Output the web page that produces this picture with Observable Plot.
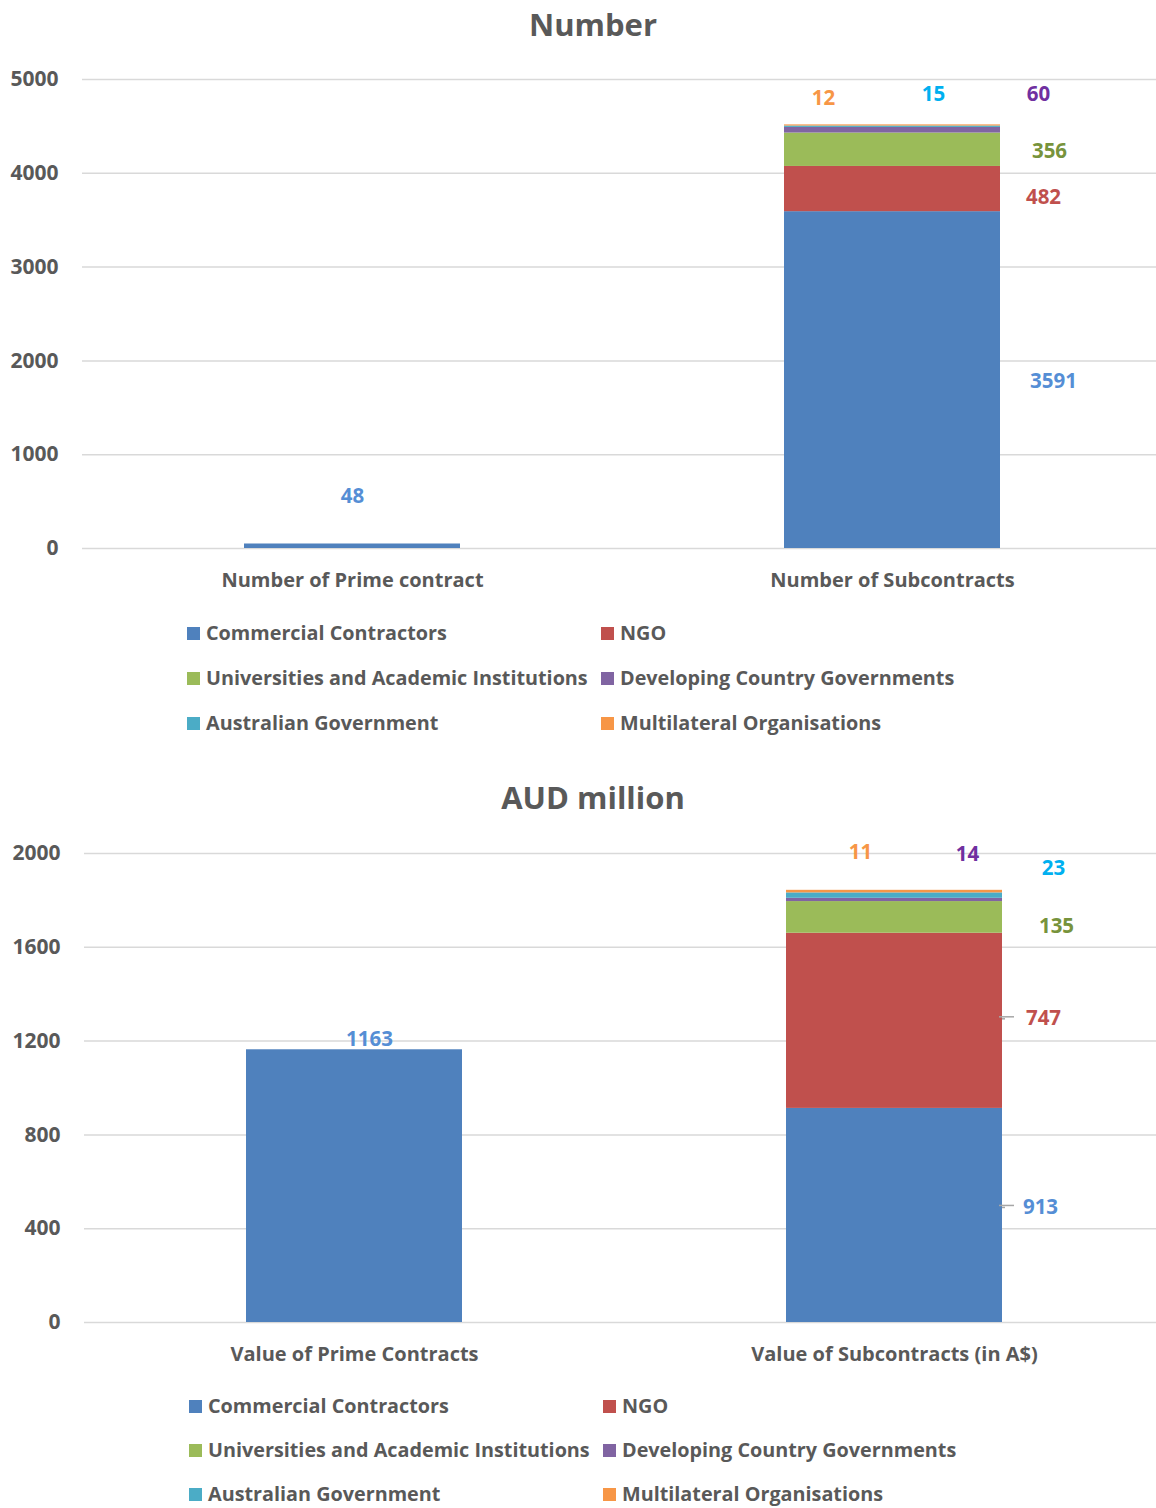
<!DOCTYPE html>
<html>
<head>
<meta charset="utf-8">
<script src="https://cdn.jsdelivr.net/npm/d3@7"></script>
<script src="https://cdn.jsdelivr.net/npm/@observablehq/plot@0.6"></script>
<style>
  body { margin: 0; background: #fff; }
  #page { position: relative; width: 1156px; height: 1508px; overflow: hidden;
          font-family: "Open Sans", Lato, sans-serif; color: #595959; }
  .title { position: absolute; left: 0; width: 1186px; text-align: center;
           font-weight: 700; font-size: 31px; line-height: 38px; }
  .chart { position: absolute; left: 0; }
  .item { position: absolute; white-space: nowrap; display: flex; align-items: center;
          font-weight: 700; font-size: 19.8px; line-height: 24px; height: 24px; }
  .sw { width: 13px; height: 13px; margin-right: 6px; flex: none; }
</style>
</head>
<body>
<div id="page"></div>
<script>
// Contracting partners by type: counts and AUD values
const seriesNames = [
  "Commercial Contractors",
  "NGO",
  "Universities and Academic Institutions",
  "Developing Country Governments",
  "Australian Government",
  "Multilateral Organisations"
];
const seriesColors = ["#4F81BD", "#C0504D", "#9BBB59", "#8064A2", "#4BACC6", "#F79646"];
const labelColors  = ["#558ED5", "#C0504D", "#77933C", "#7030A0", "#00B0F0", "#F79646"];

const numberCategories = ["Number of Prime contract", "Number of Subcontracts"];
const numberPrime = [48, 0, 0, 0, 0, 0];
const numberSub   = [3591, 482, 356, 60, 15, 12];
const numberTicks = [0, 1000, 2000, 3000, 4000, 5000];

const valueCategories = ["Value of Prime Contracts", "Value of Subcontracts (in A$)"];
const valuePrime = [1163, 0, 0, 0, 0, 0];
const valueSub   = [913, 747, 135, 14, 23, 11];
const valueTicks = [0, 400, 800, 1200, 1600, 2000];

// label nudges in pixels, per series: [dx, dy] from the segment midpoint
const numberLabelNudge = [
  [[0, -50]],
  [[161, 1], [151, 8], [157, 2], [146, -36], [41, -32], [-69, -27]]
];
const valueLabelNudge = [
  [[15, -147]],
  [[146, -8], [149, -2], [162, 9], [73, -45], [159, -27], [-34, -39]]
];
// which subcontract labels get a short leader line
const valueLeaders = [0, 1];

const FONT = "'Open Sans', Lato, sans-serif";
const page = document.getElementById("page");

function addDiv(cls, top, text) {
  const d = document.createElement("div");
  d.className = cls;
  d.style.top = top + "px";
  d.textContent = text;
  page.appendChild(d);
  return d;
}

function legend(top, leftCol1, leftCol2, rowGap = 45) {
  seriesNames.forEach((name, i) => {
    const row = Math.floor(i / 2), col = i % 2;
    const item = document.createElement("div");
    item.className = "item";
    item.style.top = (top + row * rowGap - 11) + "px";
    item.style.left = (col === 0 ? leftCol1 : leftCol2) + "px";
    const sw = document.createElement("span");
    sw.className = "sw";
    sw.style.background = seriesColors[i];
    item.appendChild(sw);
    item.appendChild(document.createTextNode(name));
    page.appendChild(item);
  });
}

function chart({categories, stacks, ticks, nudges, leaders = [], left, top, marginTop, marginBottom}) {
  const rows = [];
  const labels = [];
  categories.forEach((cat, ci) => {
    let acc = 0;
    stacks[ci].forEach((v, si) => {
      rows.push({category: cat, series: seriesNames[si], value: v});
      if (v > 0) labels.push({category: cat, si, ci, value: v, mid: acc + v / 2});
      acc += v;
    });
  });

  const labelMarks = labels.map(d => {
    const [dx, dy] = nudges[d.ci][d.si];
    return Plot.text([d], {
      x: "category", y: "mid", text: d => String(d.value),
      dx, dy, fill: labelColors[d.si], fontSize: 20.5, fontWeight: 700
    });
  });

  // short leader: a horizontal stroke off the bar edge with a small downward hook
  const leaderMarks = labels
    .filter(d => d.ci === 1 && leaders.includes(d.si))
    .flatMap(d => {
      const [, dy] = nudges[d.ci][d.si];
      return [
        Plot.tickY([d], {
          x: "category", y: "mid", dy: dy - 2, dx: 12,
          insetLeft: 201, stroke: "#A6A6A6", strokeWidth: 1.5
        }),
        Plot.tickY([d], {
          x: "category", y: "mid", dy: dy, dx: 3,
          insetLeft: 213, stroke: "#A6A6A6", strokeWidth: 1.5
        })
      ];
    });

  const svg = Plot.plot({
    width: 1156,
    height: 560,
    marginLeft: left,
    marginRight: 0,
    marginTop,
    marginBottom,
    style: {fontFamily: FONT, fontWeight: 700, fontSize: "20px", color: "#595959", background: "transparent"},
    x: {domain: categories, range: [left, left + 1080], paddingInner: 0.6, paddingOuter: 0.3, label: null},
    y: {domain: [0, ticks[ticks.length - 1]], label: null},
    color: {domain: seriesNames, range: seriesColors},
    marks: [
      Plot.ruleY(ticks, {stroke: "#D9D9D9", strokeWidth: 1.5}),
      Plot.barY(rows.filter(d => d.value > 0), {x: "category", y: "value", fill: "series", order: null}),
      Plot.axisY(ticks, {tickSize: 0, tickPadding: 24, tickFormat: d3.format("d"), fontSize: 21, fontWeight: 700, fill: "#595959", label: null}),
      Plot.axisX({tickSize: 0, tickPadding: 24, fontSize: 20, fontWeight: 700, fill: "#595959", label: null}),
      ...leaderMarks,
      ...labelMarks
    ]
  });
  svg.classList.add("chart");
  svg.style.top = top + "px";
  page.appendChild(svg);
}

// Chart 1: number of contracts
addDiv("title", 5, "Number");
chart({
  categories: numberCategories,
  stacks: [numberPrime, numberSub],
  ticks: numberTicks,
  nudges: numberLabelNudge,
  left: 82, top: 50, marginTop: 29, marginBottom: 62
});
legend(632, 187, 601);

// Chart 2: contract value
addDiv("title", 778, "AUD million");
chart({
  categories: valueCategories,
  stacks: [valuePrime, valueSub],
  ticks: valueTicks,
  nudges: valueLabelNudge,
  leaders: valueLeaders,
  left: 84, top: 825, marginTop: 28, marginBottom: 63
});
legend(1405, 189, 603, 44);
</script>
</body>
</html>
